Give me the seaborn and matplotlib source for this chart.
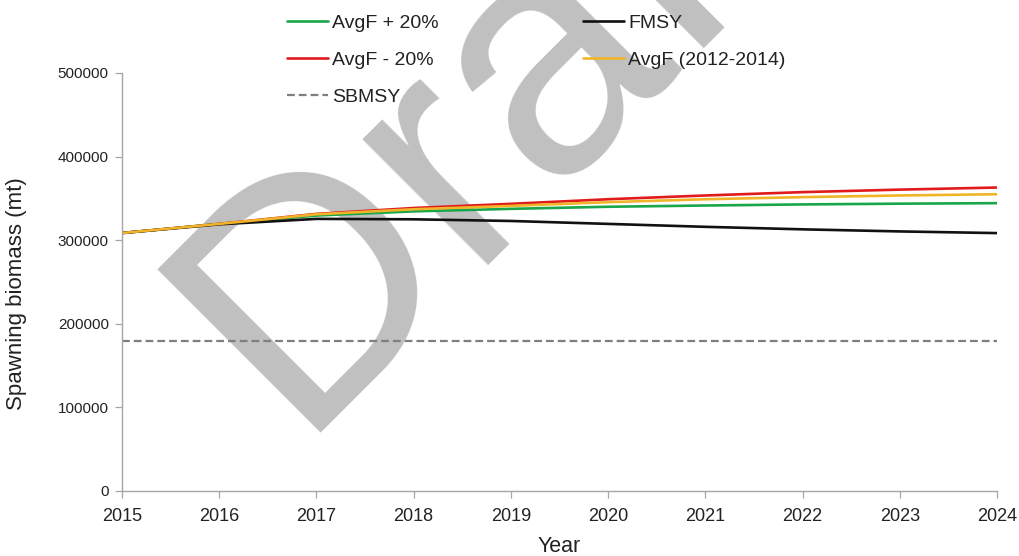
import matplotlib
matplotlib.use("Agg")
import matplotlib.pyplot as plt
import seaborn as sns

# Projected spawning biomass (mt) under alternative fishing mortality scenarios
years = [2015, 2016, 2017, 2018, 2019, 2020, 2021, 2022, 2023, 2024]
avgf_plus20 = [308600, 319500, 329500, 334500, 337500, 340000, 341500, 342800, 343700, 344300]
avgf_minus20 = [308600, 319500, 331500, 338500, 343500, 349000, 353500, 357500, 360500, 363000]
avgf_base = [308600, 319500, 331000, 337000, 341000, 345500, 349000, 351500, 353500, 355000]
fmsy = [308600, 319000, 325500, 325000, 323000, 319500, 316000, 313000, 310500, 308500]
sbmsy = 179000

series_labels = ["AvgF + 20%", "AvgF - 20%", "FMSY", "AvgF (2012-2014)"]
series_values = [avgf_plus20, avgf_minus20, fmsy, avgf_base]
series_colors = ["#1aa64a", "#e01b1b", "#111111", "#f0b429"]
ref_label = "SBMSY"

y_ticks = [0, 100000, 200000, 300000, 400000, 500000]

sns.set_style("ticks")
plt.rcParams["font.family"] = ["Liberation Sans", "DejaVu Sans"]

fig = plt.figure(figsize=(10.19, 5.56), dpi=100)
ax = fig.add_axes([122 / 1019, 1 - 491 / 556, (997 - 122) / 1019, (491 - 73) / 556])
ax.set_facecolor("none")
ax.set_zorder(1)

# Watermark behind the plot
fig.text(293 / 1019, 1 - 433 / 556, "Draft", rotation=45, rotation_mode="anchor",
         ha="left", va="baseline", fontsize=242, color="#c0c0c0",
         family="Liberation Sans", zorder=0)

for lab, vals, col in zip(series_labels, series_values, series_colors):
    sns.lineplot(x=years, y=vals, color=col, linewidth=1.9, ax=ax, label=lab)
ax.axhline(sbmsy, color="#7f7f7f", linewidth=1.6, linestyle=(0, (3.5, 1.8)), label=ref_label)

lines = {l.get_label(): l for l in ax.get_lines()}
order = ["AvgF + 20%", "AvgF - 20%", "SBMSY", "FMSY", "AvgF (2012-2014)"]
ax.get_legend().remove()
leg = fig.legend([lines[k] for k in order], order, ncol=2, loc="upper left",
                 bbox_to_anchor=(287 / 1019, 1 - 14 / 556), frameon=False,
                 borderpad=0, borderaxespad=0, handlelength=2.1, handletextpad=0.2,
                 columnspacing=7.45, labelspacing=1.0,
                 prop={"family": "Liberation Sans", "size": 14})
for t in leg.get_texts():
    t.set_color("#222222")

ax.set_xlim(2015, 2024)
ax.set_ylim(0, 500000)
ax.set_xticks(years)
ax.set_yticks(y_ticks)
ax.ticklabel_format(style="plain", axis="y", useOffset=False)

for lbl in ax.get_yticklabels():
    lbl.set_fontsize(11)
    lbl.set_color("#222222")
for lbl in ax.get_xticklabels():
    lbl.set_fontsize(13)
    lbl.set_color("#222222")

ax.tick_params(axis="both", direction="out", length=5, width=0.9, color="#a6a6a6")
ax.tick_params(axis="y", pad=4.5)
ax.tick_params(axis="x", pad=7)

sns.despine(ax=ax)
for s in ["left", "bottom"]:
    ax.spines[s].set_color("#a6a6a6")
    ax.spines[s].set_linewidth(1.0)

ax.set_xlabel("Year", fontsize=15.5, color="#222222", labelpad=8)
ax.set_ylabel("Spawning biomass (mt)", fontsize=16, color="#222222")
ax.yaxis.set_label_coords(-0.109, 0.471)

fig.savefig("out.png", dpi=100)
